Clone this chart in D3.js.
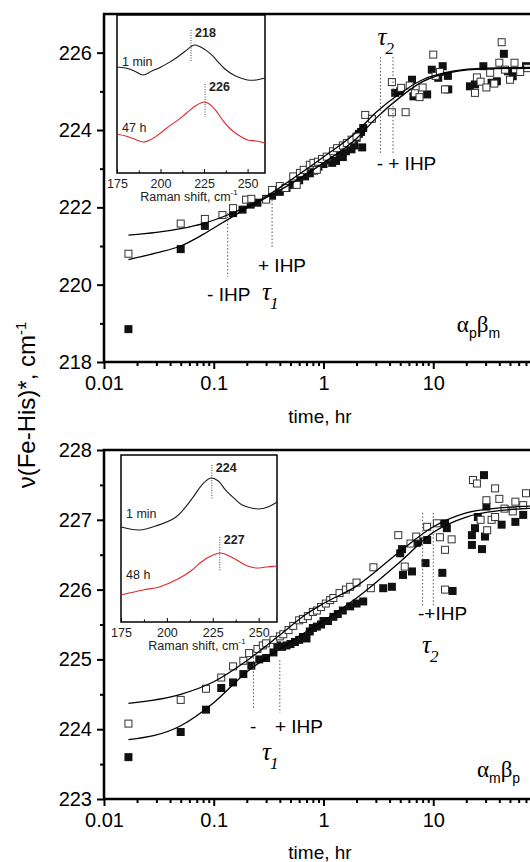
<!DOCTYPE html>
<html>
<head>
<meta charset="utf-8">
<script src="https://cdnjs.cloudflare.com/ajax/libs/d3/7.8.5/d3.min.js"></script>
<style>
  body { margin: 0; background: #fff; }
  svg { display: block; font-family: "Liberation Sans", Arial, sans-serif; }
</style>
</head>
<body>
<div id="chart"></div>
<script>
// ---- main panels: [time (hr), nu (cm-1)] ----
var topFilled = [[0.0167,218.85],[0.05,220.92],[0.083,221.52],[0.15,221.85],[0.183,221.94],[0.217,222.07],[0.25,222.12],
  [0.3,222.22],[0.34,222.3],[0.4,222.4],[0.46,222.5],[0.52,222.58],[0.6,222.7],[0.68,222.8],[0.75,222.88],[0.82,222.95],
  [0.9,223.05],[1.0,223.12],[1.1,223.22],[1.2,223.15],[1.3,223.2],[1.4,223.35],[1.5,223.3],[1.6,223.45],[1.7,223.55],
  [1.8,223.5],[1.9,223.6],[2.0,223.8],[2.1,223.9],[2.2,223.95],[2.25,223.55],[2.3,224.05],
  [4.5,224.96],[5.0,225.0],[6.4,225.3],[6.6,224.87],[8.8,224.92],[9.7,225.56],[11.1,225.35],[12.2,225.65],[13.7,225.05],[13.6,225.4],
  [21.6,225.13],[24,225.18],[28.6,225.65],[34,225.22],[38,225.26],[44,225.97],[48,225.52],[53,225.39],[70,225.65]];
var topOpen = [[0.0167,220.8],[0.05,221.58],[0.083,221.7],[0.12,221.8],[0.15,221.98],[0.197,222.2],[0.22,222.22],[0.3,222.2],
  [0.34,222.45],[0.4,222.55],[0.45,222.5],[0.53,222.8],[0.57,222.58],[0.61,222.89],[0.66,222.97],[0.75,223.1],[0.81,223.15],
  [0.87,222.97],[0.89,223.18],[0.97,223.25],[1.07,223.31],[1.22,223.45],[1.33,223.53],[1.5,223.6],[1.63,223.66],[1.8,223.75],
  [2.0,223.83],[2.4,224.39],[2.76,224.29],[4.2,225.24],[4.2,224.46],[5.1,225.09],[5.6,224.46],[6.1,225.15],[6.8,224.95],
  [7.5,224.85],[8.0,225.1],[10,225.95],[10.5,225.4],[11.5,225.5],[12.8,225.05],
  [24,224.96],[25,225.36],[27,225.25],[30.5,225.1],[33,225.48],[36,225.2],[40,225.74],[42,226.27],[45,225.56],[50,225.3],[55,225.74],[62,225.5],[72,225.6]];
var topFitA = [[0.0167,221.28],[0.03,221.35],[0.05,221.45],[0.08,221.58],[0.12,221.75],[0.2,222.02],[0.3,222.28],[0.5,222.7],
  [1,223.3],[2,223.95],[3,224.45],[5,224.95],[8,225.3],[15,225.52],[30,225.6],[100,225.62]];
var topFitB = [[0.0167,220.65],[0.03,220.82],[0.05,221.0],[0.08,221.3],[0.12,221.6],[0.2,221.98],[0.3,222.25],[0.5,222.6],
  [1,223.15],[2,223.78],[3,224.3],[5,224.85],[8,225.25],[15,225.5],[30,225.58],[100,225.6]];

var botFilled = [[0.0167,223.6],[0.05,223.96],[0.085,224.28],[0.117,224.59],[0.15,224.67],[0.186,224.79],[0.22,224.91],[0.26,225.0],
  [0.3,225.02],[0.35,225.1],[0.38,225.2],[0.42,225.18],[0.46,225.2],[0.5,225.22],[0.55,225.25],[0.6,225.28],[0.65,225.32],
  [0.7,225.3],[0.75,225.4],[0.8,225.45],[0.87,225.47],[0.95,225.5],[1.0,225.55],[1.1,225.55],[1.23,225.61],[1.35,225.65],
  [1.5,225.7],[1.75,225.76],[2.0,225.8],[2.3,225.83],[3.5,226.02],[4.2,226.04],[5.0,226.52],[5.2,226.58],[5.3,226.21],
  [6.4,226.26],[7.1,226.67],[7.3,226.69],[8.5,226.38],[8.8,226.71],[12.1,226.24],[12.8,226.95],[13.3,226.88],[15,225.98],
  [22.5,226.78],[22.5,226.64],[24,226.88],[25.5,227.04],[27.8,226.58],[29,227.64],[29.6,226.76],[30.5,227.19],[42,226.93],[56,226.97],[66,227.07]];
var botOpen = [[0.0167,224.08],[0.05,224.42],[0.085,224.58],[0.117,224.74],[0.15,224.9],[0.186,224.98],[0.21,225.09],[0.25,225.15],
  [0.28,225.2],[0.3,225.23],[0.35,225.28],[0.4,225.33],[0.43,225.36],[0.48,225.42],[0.53,225.48],[0.6,225.56],[0.65,225.58],
  [0.72,225.62],[0.8,225.68],[0.87,225.7],[0.95,225.75],[1.05,225.8],[1.15,225.85],[1.23,225.88],[1.4,225.95],[1.6,226.0],
  [1.75,226.04],[2.0,226.1],[2.7,226.02],[2.85,226.32],[4.8,226.78],[5.5,226.33],[6.2,226.66],[7.0,226.76],[8.8,226.9],
  [10.8,226.95],[11.5,226.75],[12.8,226.0],[12.8,226.57],[14.7,226.72],[23,227.57],[25,227.52],[27,227.0],[30.5,227.28],
  [31,226.85],[34,227.0],[36.6,227.45],[36.6,227.04],[40,227.3],[44.6,227.16],[53,227.12],[56,227.26],[66,227.21],[70,227.38]];
var botFitA = [[0.0167,224.37],[0.05,224.5],[0.1,224.68],[0.2,224.98],[0.4,225.35],[0.7,225.65],[1,225.8],[2,226.05],
  [5,226.55],[10,226.9],[20,227.1],[40,227.17],[100,227.2]];
var botFitB = [[0.0167,223.85],[0.05,224.05],[0.1,224.38],[0.2,224.82],[0.4,225.15],[0.7,225.4],[1,225.55],[2,225.88],
  [5,226.4],[10,226.82],[20,227.04],[40,227.13],[100,227.17]];

// ---- insets: Raman shift (cm-1) vs intensity (arb.) ----
var topShiftA = [175,180,185,190,195,200,205,210,215,218,220,223,226,230,233,237,242,246,250,255,260];
var topMin1   = [67.1,66.5,64.6,62.0,64.5,67.0,70.0,73.6,77.8,80.4,81.0,79.7,77.8,74.1,70.4,65.8,62.0,60.1,58.9,58.9,60.1];
var topShiftB = [175,180,185,190,195,200,205,210,215,220,225,228,232,236,240,244,250,255,260];
var top47h    = [24.7,23.4,21.5,19.6,21.5,25.3,29.7,33.5,38.0,42.4,44.9,43.7,39.2,33.0,28.0,24.5,20.9,20.3,19.0];
var botShiftA = [175,185,194,205,214,219,224,228,232,237,241,246,250,255,260];
var botMin1   = [56.9,55.1,57.5,62.9,74.3,82.0,86.2,84.4,79.0,73.7,70.1,68.3,67.7,68.9,71.9];
var botShiftB = [175,187,196,207,213,218,224,229,234,238,244,249,254,260];
var bot48h    = [16.2,19.2,21.0,26.3,30.5,35.3,39.5,41.3,39.5,37.1,33.5,32.3,32.9,33.5];

var xMajor = [0.01, 0.1, 1, 10];
var ramanMajor = [175, 200, 225, 250];

var width = 530, height = 862;
var svg = d3.select("#chart").append("svg").attr("width", width).attr("height", height);
svg.append("rect").attr("width", width).attr("height", height).attr("fill", "#fff");

var x = d3.scaleLog().domain([0.01, 100]).range([104, 543]);
var xMinor = [];
[0.01, 0.1, 1, 10].forEach(function(d) { for (var k = 2; k < 10; k++) xMinor.push(d * k); });

function drawPanel(p) {
  var y = d3.scaleLinear().domain(p.yDomain).range(p.yRange);
  var g = svg.append("g");
  var y0 = p.yRange[0], y1 = p.yRange[1];

  // frame
  g.append("path").attr("d", "M543," + y1 + "H104V" + y0 + "H543")
    .attr("fill", "none").attr("stroke", "#000").attr("stroke-width", 2.5);

  g.append("g").attr("transform", "translate(0," + y0 + ")")
    .call(d3.axisBottom(x).tickValues(xMajor).tickFormat(function(d) { return String(d); })
      .tickSize(7).tickPadding(7).tickSizeOuter(0));
  g.append("g").attr("transform", "translate(0," + y0 + ")")
    .call(d3.axisBottom(x).tickValues(xMinor).tickFormat("").tickSize(4).tickSizeOuter(0));
  g.append("g").attr("transform", "translate(104,0)")
    .call(d3.axisLeft(y).tickValues(p.yMajor).tickFormat(d3.format("d")).tickSize(7).tickPadding(5).tickSizeOuter(0));
  g.append("g").attr("transform", "translate(104,0)")
    .call(d3.axisLeft(y).tickValues(p.yMinor).tickFormat("").tickSize(4).tickSizeOuter(0));
  g.selectAll(".domain").remove();
  g.selectAll(".tick line").attr("stroke", "#000").attr("stroke-width", 2);
  g.selectAll(".tick text").attr("font-size", 20).attr("fill", "#000")
    .attr("font-family", "'Liberation Sans', Arial, sans-serif");

  g.append("text").attr("x", 320).attr("y", p.titleY).attr("text-anchor", "middle")
    .attr("font-size", 19).text("time, hr");

  // markers
  g.selectAll(".f").data(p.filled).enter().append("rect")
    .attr("x", function(d) { return x(d[0]) - 4; }).attr("y", function(d) { return y(d[1]) - 4; })
    .attr("width", 8).attr("height", 8).attr("fill", "#111");
  g.selectAll(".o").data(p.open).enter().append("rect")
    .attr("x", function(d) { return x(d[0]) - 3.5; }).attr("y", function(d) { return y(d[1]) - 3.5; })
    .attr("width", 7).attr("height", 7).attr("fill", "#fff").attr("stroke", "#333").attr("stroke-width", 1);

  var line = d3.line().x(function(d) { return x(d[0]); }).y(function(d) { return y(d[1]); }).curve(d3.curveMonotoneX);
  [p.fitA, p.fitB].forEach(function(f) {
    g.append("path").datum(f).attr("d", line).attr("fill", "none").attr("stroke", "#000").attr("stroke-width", 1.3);
  });

  // dotted tau markers
  p.marks.forEach(function(m) {
    g.append("line").attr("x1", x(m[0])).attr("x2", x(m[0])).attr("y1", y(m[1])).attr("y2", y(m[2]))
      .attr("stroke", "#555").attr("stroke-width", 1).attr("stroke-dasharray", "1.5,2");
  });
  return y;
}

function drawInset(p) {
  var g = svg.append("g");
  var ix = d3.scaleLinear().domain([175, 260]).range([p.x0, p.x1]);
  var iy = d3.scaleLinear().domain([0, 100]).range([p.y1, p.y0]);
  g.append("rect").attr("x", p.x0).attr("y", p.y0).attr("width", p.x1 - p.x0).attr("height", p.y1 - p.y0)
    .attr("fill", "#fff").attr("stroke", "#000").attr("stroke-width", 1.5);
  g.append("g").attr("transform", "translate(0," + p.y1 + ")")
    .call(d3.axisBottom(ix).tickValues(ramanMajor).tickSize(-4).tickPadding(6).tickSizeOuter(0));
  g.append("g").attr("transform", "translate(0," + p.y1 + ")")
    .call(d3.axisBottom(ix).tickValues([187.5, 212.5, 237.5]).tickSize(-2.5).tickFormat("").tickSizeOuter(0));
  g.selectAll(".domain").remove();
  g.selectAll(".tick line").attr("stroke", "#000");
  g.selectAll(".tick text").attr("font-size", 12.5).attr("fill", "#222")
    .attr("font-family", "'Liberation Sans', Arial, sans-serif");
  var t = g.append("text").attr("x", (p.x0 + p.x1) / 2 - 2).attr("y", p.y1 + 28).attr("text-anchor", "middle")
    .attr("font-size", 12.5).attr("fill", "#222").text("Raman shift, cm");
  t.append("tspan").attr("font-size", 8).attr("dy", -6).text("-1");

  var line = d3.line().curve(d3.curveCatmullRom);
  function trace(xs, ys, col) {
    g.append("path").datum(xs.map(function(v, i) { return [ix(v), iy(ys[i])]; }))
      .attr("d", line).attr("fill", "none").attr("stroke", col).attr("stroke-width", 1.1);
  }
  trace(p.sA, p.iA, "#1a1a1a");
  trace(p.sB, p.iB, "#e3262b");
  p.peaks.forEach(function(k) {
    g.append("line").attr("x1", ix(k.s)).attr("x2", ix(k.s)).attr("y1", iy(k.top)).attr("y2", iy(k.bot))
      .attr("stroke", "#444").attr("stroke-width", 1).attr("stroke-dasharray", "1,1.5");
    g.append("text").attr("x", ix(k.s) + 4).attr("y", iy(k.top) + 7).attr("font-size", 12.5)
      .attr("font-weight", "bold").attr("fill", "#222").text(k.label);
  });
  p.names.forEach(function(n) {
    g.append("text").attr("x", p.x0 + 5).attr("y", iy(n.i)).attr("font-size", 12.5).attr("fill", "#222").text(n.t);
  });
}

var yTop = drawPanel({
  yDomain: [218, 227], yRange: [362, 14],
  yMajor: [218, 220, 222, 224, 226], yMinor: [219, 221, 223, 225],
  titleY: 423, filled: topFilled, open: topOpen, fitA: topFitA, fitB: topFitB,
  marks: [[0.134, 221.85, 220.2], [0.34, 222.19, 220.97], [3.3, 225.89, 223.35], [4.3, 225.89, 223.35]]
});
var yBot = drawPanel({
  yDomain: [223, 228], yRange: [799, 450],
  yMajor: [223, 224, 225, 226, 227, 228], yMinor: [223.5, 224.5, 225.5, 226.5, 227.5],
  titleY: 859, filled: botFilled, open: botOpen, fitA: botFitA, fitB: botFitB,
  marks: [[0.23, 225.13, 224.28], [0.40, 224.99, 224.23], [8.0, 227.1, 225.75], [10, 227.1, 225.75]]
});

drawInset({ x0: 117, x1: 265, y0: 15, y1: 173, sA: topShiftA, iA: topMin1, sB: topShiftB, iB: top47h,
  peaks: [{ s: 217.5, top: 90.5, bot: 70.3, label: "218" }, { s: 225.6, top: 56.3, bot: 35.4, label: "226" }],
  names: [{ t: "1 min", i: 68 }, { t: "47 h", i: 26 }] });
drawInset({ x0: 121, x1: 277, y0: 455, y1: 622, sA: botShiftA, iA: botMin1, sB: botShiftB, iB: bot48h,
  peaks: [{ s: 224.5, top: 94, bot: 74, label: "224" }, { s: 228.8, top: 51, bot: 31, label: "227" }],
  names: [{ t: "1 min", i: 62 }, { t: "48 h", i: 26 }] });

// annotations
function label(t, v, y, str) {
  return svg.append("text").attr("x", x(t)).attr("y", y(v)).attr("font-size", 19).text(str);
}
function tau(t, v, y, sub) {
  var tx = svg.append("text").attr("x", x(t)).attr("y", y(v))
    .attr("font-family", "'Liberation Serif', 'Times New Roman', serif").attr("font-style", "italic")
    .attr("font-size", 25).text("τ");
  tx.append("tspan").attr("font-size", 17).attr("dy", 9).attr("dx", -1).text(sub);
}
function greek(t, v, y, a, sa, b, sb) {
  var tx = svg.append("text").attr("x", x(t)).attr("y", y(v))
    .attr("font-family", "'Liberation Serif', 'Times New Roman', serif").attr("font-size", 23).text(a);
  tx.append("tspan").attr("font-family", "'Liberation Sans', Arial, sans-serif").attr("font-size", 14).attr("dy", 6).text(sa);
  tx.append("tspan").attr("font-size", 23).attr("dy", -6).text(b);
  tx.append("tspan").attr("font-family", "'Liberation Sans', Arial, sans-serif").attr("font-size", 14).attr("dy", 6).text(sb);
}

label(0.087, 219.58, yTop, "- IHP");
label(0.253, 220.33, yTop, "+ IHP");
tau(0.275, 219.6, yTop, "1");
tau(3.1, 226.2, yTop, "2");
label(3.05, 222.97, yTop, "-  + IHP");
greek(16.4, 218.78, yTop, "α", "p", "β", "m");

label(0.214, 223.95, yBot, "-");
label(0.361, 223.95, yBot, "+ IHP");
tau(0.275, 223.56, yBot, "1");
label(7.26, 225.56, yBot, "-+IHP");
tau(7.9, 225.09, yBot, "2");
greek(25, 223.32, yBot, "α", "m", "β", "p");

// y label
var yl = svg.append("text").attr("transform", "translate(35,405) rotate(-90)").attr("text-anchor", "middle")
  .attr("font-size", 24).text("ν(Fe-His)*, cm");
yl.append("tspan").attr("font-size", 15).attr("dy", -9).text("-1");
</script>
</body>
</html>
